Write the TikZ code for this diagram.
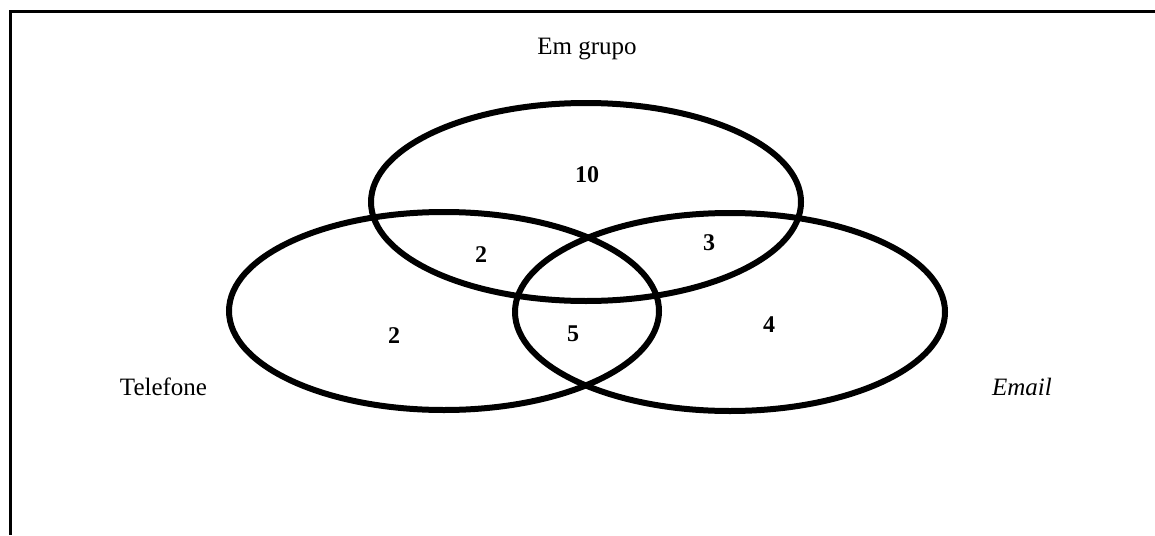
\documentclass[tikz,border=0pt]{standalone}
\usepackage{fontspec}
\setmainfont{Liberation Serif}
\begin{document}
\begin{tikzpicture}[x=1pt,y=-1pt,
  setline/.style={line width=6pt},
  framel/.style={line width=3pt},
  lbl/.style={font=\fontsize{25}{30}\selectfont, anchor=base, inner sep=0pt},
  num/.style={font=\fontsize{24}{28}\selectfont\bfseries, anchor=base, inner sep=0pt}]
\useasboundingbox (0,0) rectangle (1155,535);
% frame (top and left edges)
\coordinate (ftr) at (1155,11.5);
\coordinate (ftl) at (10,11.5);
\coordinate (fbl) at (10,535);
\draw[framel] (ftr) -- (ftl) -- (fbl);
% sets
\draw[setline] (586,202) ellipse [x radius=215, y radius=99];
\draw[setline] (444,311) ellipse [x radius=215, y radius=99];
\draw[setline] (730,312) ellipse [x radius=215, y radius=99];
% labels
\node[lbl] (grupo) at (587,55) {Em grupo};
\node[lbl] (tel) at (163.5,395) {Telefone};
\node[lbl] (mail) at (1022,395) {\itshape Email};
% counts
\node[num] (n10) at (587,182) {10};
\node[num] (n2a) at (481,262) {2};
\node[num] (n3) at (709,250) {3};
\node[num] (n5) at (573,341) {5};
\node[num] (n2b) at (394,343) {2};
\node[num] (n4) at (769,332) {4};
\end{tikzpicture}
\end{document}
